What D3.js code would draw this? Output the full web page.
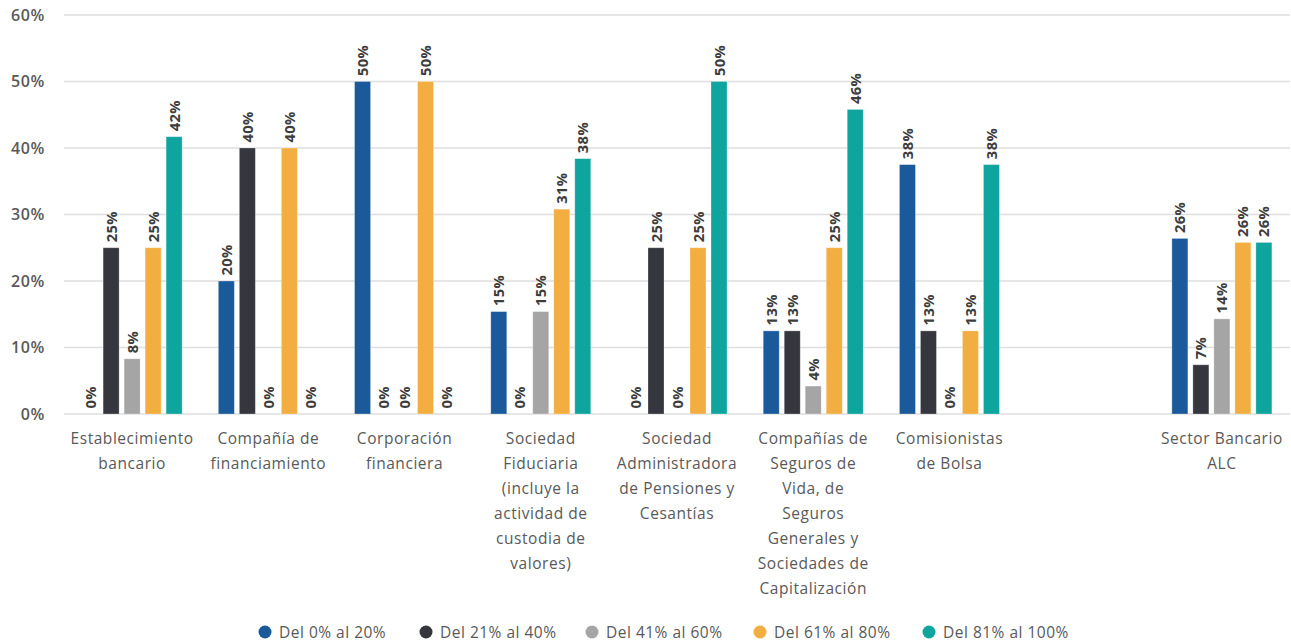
<!DOCTYPE html>
<html><head><meta charset="utf-8">
<script src="https://cdn.jsdelivr.net/npm/d3@7"></script>
<style>
html,body{margin:0;padding:0;background:#fff;}
svg{display:block;font-family:"Open Sans",sans-serif;}
</style></head>
<body><svg id="c" width="1291" height="644"></svg>
<script>
const categories = [
  ["Establecimiento","bancario"],
  ["Compañía de","financiamiento"],
  ["Corporación","financiera"],
  ["Sociedad","Fiduciaria","(incluye la","actividad de","custodia de","valores)"],
  ["Sociedad","Administradora","de Pensiones y","Cesantías"],
  ["Compañías de","Seguros de","Vida, de","Seguros","Generales y","Sociedades de","Capitalización"],
  ["Comisionistas","de Bolsa"],
  [],
  ["Sector Bancario","ALC"]
];
const seriesNames = ["Del 0% al 20%","Del 21% al 40%","Del 41% al 60%","Del 61% al 80%","Del 81% al 100%"];
const colors = ["#1B5A9A","#35363E","#A5A5A5","#F2AE40","#0FA59F"];
const s0 = [0, 20, 50, 15.4, 0, 12.5, 37.5, null, 26.4];
const s1 = [25, 40, 0, 0, 25, 12.5, 12.5, null, 7.4];
const s2 = [8.3, 0, 0, 15.4, 0, 4.2, 0, null, 14.3];
const s3 = [25, 40, 50, 30.8, 25, 25, 12.5, null, 25.8];
const s4 = [41.7, 0, 0, 38.4, 50, 45.8, 37.5, null, 25.8];
const series = [s0,s1,s2,s3,s4];
const yTicks = [0,10,20,30,40,50,60];

(function(){
const svg = d3.select("#c");
const mL = 64, mR = 1290, mT = 15, mB = 414;
const x0 = d3.scaleBand().domain(d3.range(categories.length)).range([mL,mR]).paddingInner(0).paddingOuter(0);
const x1 = d3.scaleBand().domain(d3.range(series.length)).range([0,105]).paddingInner(0.238).paddingOuter(0.119);
const y = d3.scaleLinear().domain([0,60]).range([mB,mT]);

svg.append("g").selectAll("line").data(yTicks).join("line")
  .attr("x1",mL).attr("x2",mR)
  .attr("y1",d=>y(d)).attr("y2",d=>y(d))
  .attr("stroke","#dedede").attr("stroke-width",1.3);

svg.append("g").selectAll("text").data(yTicks).join("text")
  .attr("x",45).attr("y",d=>y(d)).attr("dy","0.36em")
  .attr("text-anchor","end").attr("fill","#595959")
  .attr("font-size",16).attr("font-weight",600).attr("letter-spacing",0.6)
  .text(d=>d+"%");

series.forEach((s,si)=>{
  const g = svg.append("g");
  s.forEach((v,ci)=>{
    if(v===null) return;
    const bx = x0(ci)+x0.bandwidth()/2-52.5+x1(si);
    if(v>0){
      g.append("rect").attr("x",bx).attr("y",y(v)).attr("width",x1.bandwidth())
        .attr("height",y(0)-y(v)).attr("fill",colors[si])
        .attr("stroke","#ffffff").attr("stroke-opacity",0.35).attr("stroke-width",0.8);
    }
    const cx = bx + x1.bandwidth()/2;
    const ty = y(v) - 5.5;
    g.append("text").attr("transform",`translate(${cx+5.6},${ty}) rotate(-90)`)
      .attr("text-anchor","start").attr("fill","#3d3d3d")
      .attr("font-size",14.8).attr("font-weight",700).attr("letter-spacing",0.3)
      .text(Math.round(v)+"%");
  });
});

categories.forEach((lines,ci)=>{
  const cx = x0(ci)+x0.bandwidth()/2;
  const t = svg.append("text").attr("text-anchor","middle").attr("fill","#595959")
    .attr("font-size",15.5).attr("font-weight",500).attr("letter-spacing",0.55);
  lines.forEach((ln,li)=>{
    t.append("tspan").attr("x",cx).attr("y",444+li*25).text(ln);
  });
});

const legX = [265,426,592,760,929];
const lg = svg.append("g");
seriesNames.forEach((n,i)=>{
  lg.append("circle").attr("cx",legX[i]).attr("cy",632).attr("r",6.5).attr("fill",colors[i]);
  lg.append("text").attr("x",legX[i]+14).attr("y",632).attr("dy","0.36em")
    .attr("fill","#595959").attr("font-size",15.5).attr("letter-spacing",0.5).text(n);
});
})();
</script></body></html>
